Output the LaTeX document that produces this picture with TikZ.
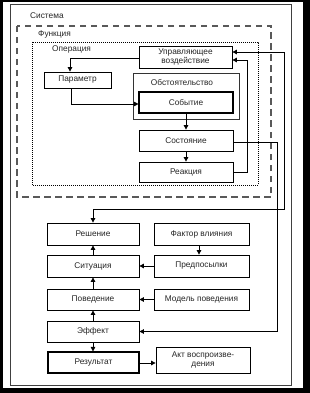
\documentclass[tikz,border=0pt]{standalone}
\usepackage{fontspec}
\setmainfont{Liberation Sans}
\usetikzlibrary{arrows.meta}
\begin{document}
\begin{tikzpicture}[x=1pt,y=-1pt,
  font=\fontsize{8.3}{9.5}\selectfont,
  box/.style={draw=black, line width=0.8pt, fill=white, inner sep=0pt, align=center, minimum height=21pt, text=black!85},
  bbox/.style={box, line width=1.05pt},
  lbl/.style={inner sep=0pt, anchor=west, text=black!85},
  con/.style={draw=black, line width=0.8pt, -{Triangle[length=4.5pt,width=4.5pt]}},
  dcon/.style={draw=black, line width=0.8pt, {Triangle[length=4.5pt,width=4.5pt]}-{Triangle[length=4.5pt,width=4.5pt]}},
  ln/.style={draw=black, line width=0.8pt}]
\useasboundingbox (0,0) rectangle (310,393);
\fill[black] (0,0) rectangle (310,393);
\fill[white] (3,2.5) rectangle (303,388);
% frames
\draw[black!75, line width=0.8pt] (10,4.5) rectangle (291,385);
\node[lbl] (sys) at (30,16) {Система};
\draw[black!65, line width=1.3pt, dash pattern=on 6.5pt off 4.5pt] (17,26) rectangle (271,197);
\node[lbl] (fun) at (38,34.5) {Функция};
\draw[black, line width=0.7pt, dash pattern=on 0.8pt off 1.2pt] (32,42) rectangle (258,185);
\node[lbl] (op) at (52,49.5) {Операция};
% upper boxes
\node[box, minimum width=93pt, minimum height=22pt] (uv) at (185.5,57) {Управляющее\\воздействие};
\node[box, minimum width=67pt, minimum height=16pt] (par) at (77.5,80) {Параметр};
\node[box, draw=black!80, minimum width=106pt, minimum height=46pt] (obst) at (186,96) {};
\node[inner sep=0pt, text=black!85] (obstl) at (182,82.5) {Обстоятельство};
\node[bbox, minimum width=94pt] (sob) at (186,102.5) {Событие};
\node[box, minimum width=94pt] (sost) at (186,140.5) {Состояние};
\node[box, minimum width=94pt, minimum height=20pt] (reak) at (186,172) {Реакция};
% lower boxes
\node[box, minimum width=92pt, minimum height=22pt] (resh) at (93,234) {Решение};
\node[box, minimum width=95pt, minimum height=22pt] (fakt) at (201.5,234) {Фактор влияния};
\node[box, minimum width=92pt, minimum height=22pt] (sit) at (93,266) {Ситуация};
\node[box, minimum width=95pt, minimum height=22pt] (pred) at (201.5,266) {Предпосылки};
\node[box, minimum width=92pt] (pov) at (93,299.5) {Поведение};
\node[box, minimum width=95pt] (mod) at (201.5,299.5) {Модель поведения};
\node[box, minimum width=92pt] (eff) at (93,331.5) {Эффект};
\node[bbox, minimum width=91pt] (rez) at (93.5,362.5) {Результат};
\node[box, minimum width=94pt, minimum height=26pt] (akt) at (203,360) {Акт воспроизве-\\дения};
% coordinates
\coordinate (c1) at (70,58);
\coordinate (c2) at (71,104);
\coordinate (c3) at (247,172);
\coordinate (c4) at (247,60);
\coordinate (c5) at (284,52);
\coordinate (c6) at (284,209);
\coordinate (c7) at (93,209);
\coordinate (c8) at (277,142);
\coordinate (c9) at (277,331.5);
% connectors upper
\draw[con] (uv.west |- c1) -- (c1) -- (c1 |- par.north);
\draw[con] (c2 |- par.south) -- (c2) -- (sob.west |- c2);
\draw[con] (sob.south) -- (sost.north);
\draw[con] (sost.south) -- (reak.north);
\draw[con] (reak.east |- c3) -- (c3) -- (c4) -- (uv.east |- c4);
\draw[dcon] (uv.east |- c5) -- (c5) -- (c6) -- (c7) -- (resh.north);
\draw[con] (sost.east |- c8) -- (c8) -- (c9) -- (eff.east |- c9);
% connectors lower
\draw[con] (sit.north) -- (resh.south);
\draw[con] (fakt.south -| 199,0) -- (pred.north -| 199,0);
\draw[con] (pred.west) -- (sit.east);
\draw[con] (pov.north) -- (sit.south);
\draw[con] (mod.west) -- (pov.east);
\draw[con] (eff.north) -- (pov.south);
\draw[con] (eff.south) -- (eff.south |- rez.north);
\draw[con] (rez.east |- 0,363) -- (akt.west |- 0,363);
\end{tikzpicture}
\end{document}
